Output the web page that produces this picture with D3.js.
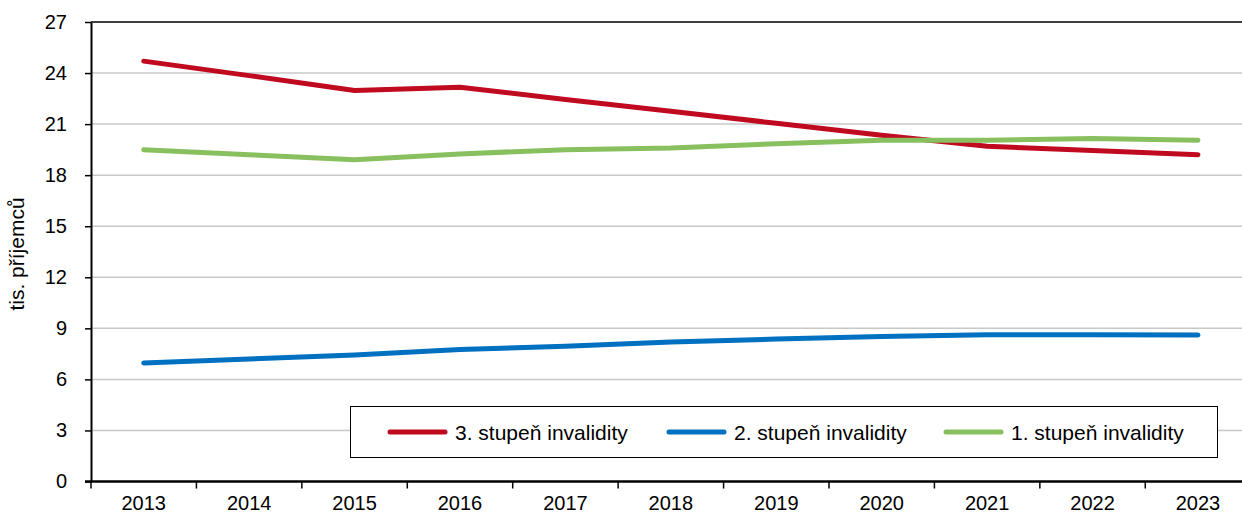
<!DOCTYPE html>
<html>
<head>
<meta charset="utf-8">
<script src="https://cdn.jsdelivr.net/npm/d3@7"></script>
<style>
  body { margin: 0; background: #fff; }
  svg { display: block; font-family: "Liberation Sans", Arial, sans-serif; }
</style>
</head>
<body>
<svg id="chart" width="1242" height="515"></svg>
<script>
// data
var years = ['2013', '2014', '2015', '2016', '2017', '2018', '2019', '2020', '2021', '2022', '2023'];
var stupen3 = [24.7, 23.85, 22.97, 23.17, 22.45, 21.75, 21.05, 20.35, 19.7, 19.45, 19.2];
var stupen2 = [6.97, 7.2, 7.43, 7.75, 7.95, 8.2, 8.37, 8.52, 8.63, 8.62, 8.61];
var stupen1 = [19.5, 19.2, 18.9, 19.25, 19.5, 19.6, 19.85, 20.05, 20.05, 20.15, 20.05];
var yTicks = [0, 3, 6, 9, 12, 15, 18, 21, 24, 27];

var series = [
  { name: '3. stupeň invalidity', values: stupen3, color: '#C00A20' },
  { name: '2. stupeň invalidity', values: stupen2, color: '#0070C0' },
  { name: '1. stupeň invalidity', values: stupen1, color: '#88C060' }
];

var svg = d3.select('#chart');
var margin = {top: 22, left: 91};
var plotBottom = 481.5;
var plotRight = 1250.7; // runs a bit past the window edge, as in the picture

var x = d3.scaleBand()
    .domain(years)
    .range([margin.left, plotRight]);

var y = d3.scaleLinear()
    .domain([0, 27])
    .range([plotBottom, margin.top]);

// gridlines
svg.append('g')
    .selectAll('line')
    .data(yTicks.filter(function(d) { return d > 0 && d < 27; }))
    .enter().append('line')
    .attr('x1', margin.left)
    .attr('x2', 1242)
    .attr('y1', function(d) { return y(d); })
    .attr('y2', function(d) { return y(d); })
    .attr('stroke', '#c8c8c8')
    .attr('stroke-width', 1.5);

// top border
svg.append('line')
    .attr('x1', margin.left).attr('x2', 1242)
    .attr('y1', y(27)).attr('y2', y(27))
    .attr('stroke', '#000').attr('stroke-width', 1.5);

// y axis
var yAxis = svg.append('g')
    .attr('transform', 'translate(' + margin.left + ',0)')
    .call(d3.axisLeft(y).tickValues(yTicks).tickSize(6).tickPadding(18).tickSizeOuter(0));
yAxis.select('.domain').attr('stroke-width', 2);
yAxis.selectAll('.tick line').attr('stroke-width', 1.5);
yAxis.selectAll('text').attr('font-size', '20px').attr('fill', '#000')
    .attr('font-family', '"Liberation Sans", Arial, sans-serif');

// x axis, ticks between categories
var xAxis = svg.append('g')
    .attr('transform', 'translate(0,' + plotBottom + ')');
xAxis.append('line')
    .attr('x1', margin.left - 6).attr('x2', 1242)
    .attr('stroke', '#000').attr('stroke-width', 2.5);
xAxis.selectAll('.xtick')
    .data(years)
    .enter().append('line')
    .attr('class', 'xtick')
    .attr('x1', function(d) { return x(d); })
    .attr('x2', function(d) { return x(d); })
    .attr('y1', 0).attr('y2', 7)
    .attr('stroke', '#000').attr('stroke-width', 1.5);
xAxis.selectAll('.xlabel')
    .data(years)
    .enter().append('text')
    .attr('class', 'xlabel')
    .attr('x', function(d) { return x(d) + x.bandwidth() / 2; })
    .attr('y', 28.5)
    .attr('text-anchor', 'middle')
    .attr('font-size', '20px')
    .text(function(d) { return d; });

// y axis title
svg.append('text')
    .attr('transform', 'translate(24,254) rotate(-90)')
    .attr('text-anchor', 'middle')
    .attr('font-size', '21px')
    .text('tis. příjemců');

// lines
var line = d3.line()
    .x(function(d, i) { return x(years[i]) + x.bandwidth() / 2; })
    .y(function(d) { return y(d); });

series.forEach(function(s) {
  svg.append('path')
      .datum(s.values)
      .attr('fill', 'none')
      .attr('stroke', s.color)
      .attr('stroke-width', 5)
      .attr('stroke-linejoin', 'round')
      .attr('stroke-linecap', 'round')
      .attr('d', line);
});

// legend
var legend = svg.append('g');
legend.append('rect')
    .attr('x', 350.5).attr('y', 406.5)
    .attr('width', 867).attr('height', 51)
    .attr('fill', '#fff')
    .attr('stroke', '#000').attr('stroke-width', 1);

var legendX = [390, 669, 946];
series.forEach(function(s, i) {
  legend.append('line')
      .attr('x1', legendX[i]).attr('x2', legendX[i] + 55)
      .attr('y1', 432).attr('y2', 432)
      .attr('stroke', s.color)
      .attr('stroke-width', 5)
      .attr('stroke-linecap', 'round');
  legend.append('text')
      .attr('x', legendX[i] + 65)
      .attr('y', 439.5)
      .attr('font-size', '21px')
      .text(s.name);
});
</script>
</body>
</html>
